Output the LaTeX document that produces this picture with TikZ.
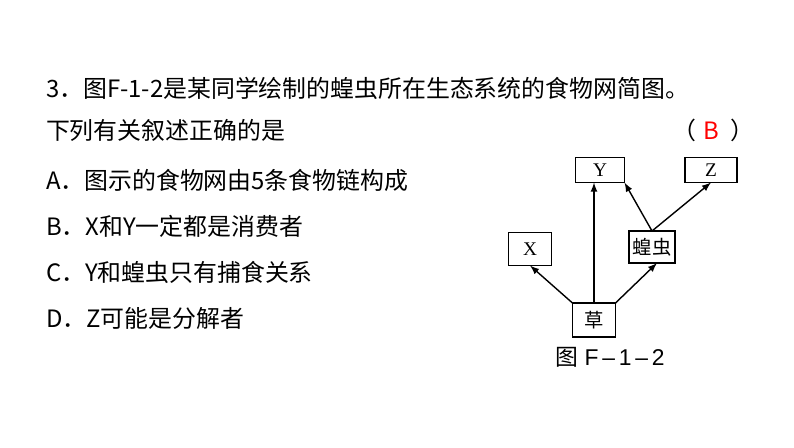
\documentclass[tikz,border=0pt]{standalone}
\usepackage{fontspec}
\newfontfamily\cjk{Noto Sans CJK SC}
\setsansfont{Liberation Sans}
\setmainfont{Liberation Serif}
\begin{document}
\begin{tikzpicture}[x=0.02cm,y=-0.02cm,
  every node/.style={inner sep=0pt, outer sep=0pt},
  txt/.style={anchor=west, font=\fontsize{13.6}{16}\cjk},
  box/.style={draw, thick, font=\fontsize{11}{13}\rmfamily},
  arr/.style={->, >=latex, thick}]
\useasboundingbox (0,0) rectangle (794,447);
% question text
\node[txt] (q1) at (46,88) {3．图F-1-2是某同学绘制的蝗虫所在生态系统的食物网简图。};
\node[txt] (q2) at (46,130) {下列有关叙述正确的是};
\node[txt] (ans) at (672,130) {（\hspace{0.3em}\textcolor{red}{B}\hspace{0.5em}）};
\node[txt] (oa) at (46,180) {A．图示的食物网由5条食物链构成};
\node[txt] (ob) at (46,226) {B．X和Y一定都是消费者};
\node[txt] (oc) at (46,272) {C．Y和蝗虫只有捕食关系};
\node[txt] (od) at (46,318) {D．Z可能是分解者};

% food web
\node[box, minimum width=49*0.02cm, minimum height=25*0.02cm] (y) at (600,170) {Y};
\node[box, minimum width=52*0.02cm, minimum height=25*0.02cm] (z) at (711,170) {Z};
\node[box, minimum width=43*0.02cm, minimum height=33*0.02cm] (x) at (530,249) {X};
\node[box, minimum width=46*0.02cm, minimum height=32*0.02cm, font=\fontsize{11}{13}\cjk] (hc) at (652,247) {蝗虫};
\node[box, minimum width=43*0.02cm, minimum height=34*0.02cm, font=\fontsize{11}{13}\cjk] (cao) at (594,320) {草};
\node[font=\fontsize{13}{15}\sffamily] (cap) at (610,357) {{\cjk 图} F\,--\,1\,--\,2};

\draw[arr] (cao.north west) -- (x.south);
\draw[arr] (cao.north) -- (y.south -| cao.north);
\draw[arr] (cao.north east) -- ([xshift=0.1cm]hc.south);
\draw[arr] (hc.north) -- (y.south east);
\draw[arr] (hc.north) -- (z.south);
\end{tikzpicture}
\end{document}
